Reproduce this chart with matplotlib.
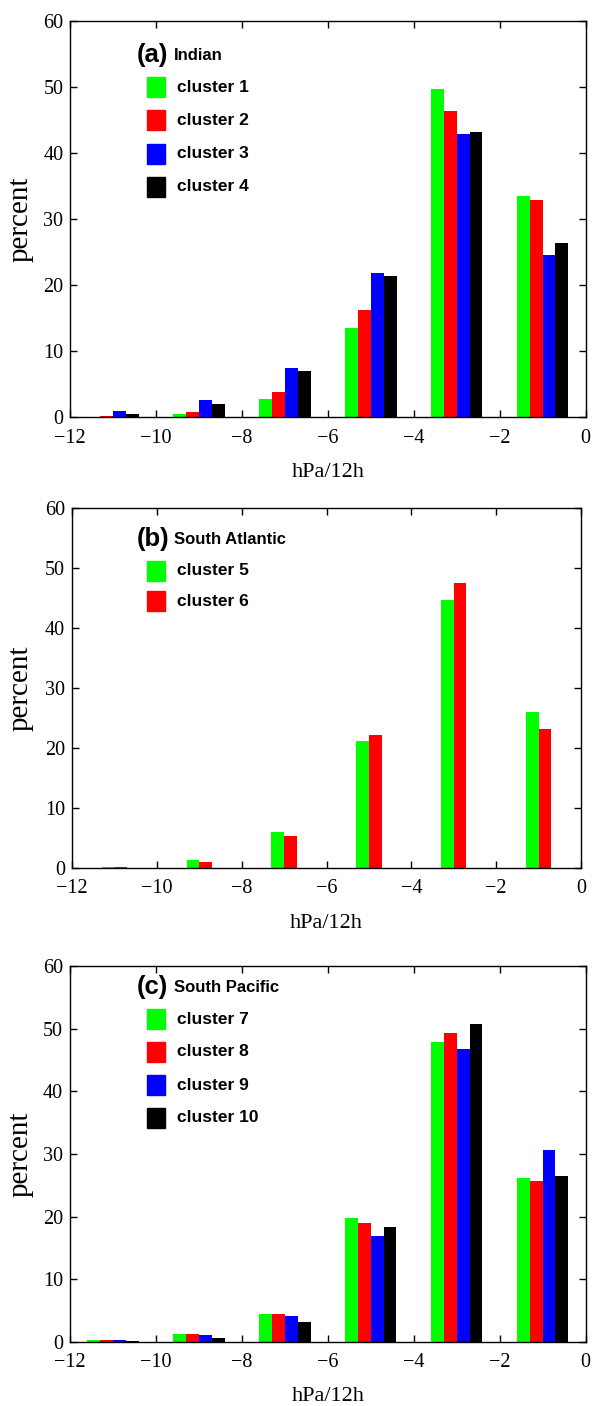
import numpy as np
import matplotlib.pyplot as plt
from matplotlib.patches import Rectangle

# bin centres (hPa/12h)
bins = np.array([-11, -9, -7, -5, -3, -1])

# (a) Indian
c1 = [0.15, 0.55, 2.8, 13.6, 49.8, 33.6]
c2 = [0.25, 0.86, 3.9, 16.3, 46.4, 33.0]
c3 = [0.96, 2.7, 7.5, 21.9, 42.9, 24.6]
c4 = [0.6, 2.0, 7.0, 21.5, 43.3, 26.4]

# (b) South Atlantic
c5 = [0.28, 1.4, 6.1, 21.3, 44.8, 26.0]
c6 = [0.17, 1.05, 5.4, 22.2, 47.6, 23.3]

# (c) South Pacific
c7 = [0.32, 1.28, 4.5, 19.8, 47.8, 26.1]
c8 = [0.27, 1.28, 4.5, 19.0, 49.3, 25.7]
c9 = [0.32, 1.06, 4.15, 16.9, 46.8, 30.7]
c10 = [0.16, 0.64, 3.2, 18.4, 50.7, 26.5]

colors = ['#00ff00', '#ff0000', '#0000ff', '#000000']

W, H = 596, 1406
serif = ['Liberation Serif', 'DejaVu Serif']
bold = ['Liberation Sans', 'DejaVu Sans']

fig = plt.figure(figsize=(W / 100, H / 100), dpi=100)


def fx(x):
    return x / W


def fy(y):
    return 1 - y / H


def panel(box, series, names, title, region, leg_top, leg_step):
    x0, x1, y0, y1 = box
    ax = fig.add_axes([fx(x0), fy(y1), fx(x1 - x0), (y1 - y0) / H])
    n = len(series)
    bw = 0.3
    for i, vals in enumerate(series):
        ax.bar(bins + (i - (n - 1) / 2) * bw, vals, bw, color=colors[i],
               linewidth=0)
    ax.set_xlim(-12, 0)
    ax.set_ylim(0, 60)
    ax.set_xticks(range(-12, 1, 2))
    ax.set_yticks(range(0, 61, 10))
    ax.tick_params(direction='in', top=True, right=True, length=5,
                   width=1, labelsize=14.5)
    ax.tick_params(axis='x', pad=8)
    ax.tick_params(axis='y', pad=5)
    for lab in ax.get_xticklabels() + ax.get_yticklabels():
        lab.set_family(serif)
    for s in ax.spines.values():
        s.set_linewidth(1)
    ax.set_ylabel('percent', fontsize=21, family=serif)
    ax.yaxis.set_label_coords(-(x0 - 21) / (x1 - x0), 0.5)
    ax.yaxis.label.set_verticalalignment('center')
    ax.set_xlabel('hPa/12h', fontsize=16, family=serif, labelpad=11)

    # legend block
    fig.text(fx(137), fy(leg_top), title, fontsize=18.5, weight='bold',
             family=bold, va='center', ha='left')
    fig.text(fx(174), fy(leg_top + 1), region, fontsize=12,
             weight='bold', family=bold, va='center', ha='left')
    for i, name in enumerate(names):
        yc = leg_top + 32 + i * leg_step
        fig.patches.append(Rectangle((fx(147), fy(yc + 10)), 18 / W, 20 / H,
                                     color=colors[i],
                                     transform=fig.transFigure))
        fig.text(fx(177), fy(yc), name, fontsize=12.5, weight='bold',
                 family=bold, va='center', ha='left')
    return ax


panel((70.3, 585.5, 21.3, 417.5), [c1, c2, c3, c4],
      ['cluster 1', 'cluster 2', 'cluster 3', 'cluster 4'],
      '(a)', 'Indian', 55, 33.3)
panel((72, 581, 508.3, 868.3), [c5, c6],
      ['cluster 5', 'cluster 6'],
      '(b)', 'South Atlantic', 539, 30)
panel((70, 585.5, 966, 1342), [c7, c8, c9, c10],
      ['cluster 7', 'cluster 8', 'cluster 9', 'cluster 10'],
      '(c)', 'South Pacific', 987, 33)

fig.savefig('out.png', dpi=100)
